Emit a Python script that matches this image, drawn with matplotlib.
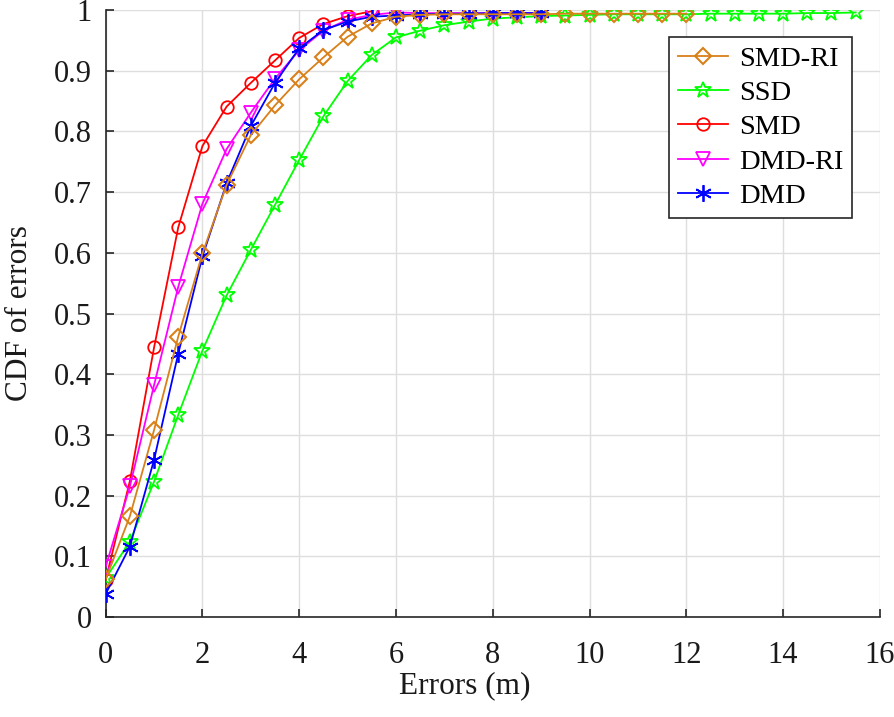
import numpy as np
import matplotlib
matplotlib.use("Agg")
import matplotlib.pyplot as plt

plt.rcParams['font.family'] = ['Liberation Serif', 'DejaVu Serif']
plt.rcParams['mathtext.fontset'] = 'stix'

# error thresholds (m) for each method
x_smd_ri = np.arange(0, 12.01, 0.5)
x_ssd = np.arange(0, 15.51, 0.5)
x_smd = np.arange(0, 5.51, 0.5)
x_dmd_ri = np.arange(0, 9.01, 0.5)
x_dmd = np.arange(0, 9.01, 0.5)

cdf_smd_ri = [0.062, 0.166, 0.308, 0.462, 0.599, 0.712, 0.794, 0.843, 0.886, 0.922,
              0.956, 0.978, 0.989, 0.992, 0.993, 0.993, 0.993, 0.993, 0.993, 0.994,
              0.994, 0.994, 0.994, 0.994, 0.994]
cdf_ssd = [0.064, 0.124, 0.223, 0.333, 0.439, 0.530, 0.605, 0.679, 0.753, 0.825,
           0.883, 0.926, 0.955, 0.966, 0.975, 0.981, 0.986, 0.988, 0.990, 0.991,
           0.992, 0.993, 0.993, 0.993, 0.993, 0.994, 0.994, 0.994, 0.994, 0.995,
           0.995, 0.996]
cdf_smd = [0.061, 0.224, 0.444, 0.642, 0.776, 0.841, 0.880, 0.917, 0.954, 0.977,
           0.990, 0.998]
cdf_dmd_ri = [0.083, 0.215, 0.382, 0.544, 0.681, 0.771, 0.831, 0.887, 0.934, 0.966,
              0.984, 0.992, 0.996, 0.995, 0.995, 0.995, 0.995, 0.995, 0.995]
cdf_dmd = [0.038, 0.116, 0.259, 0.434, 0.594, 0.715, 0.809, 0.880, 0.937, 0.967,
           0.981, 0.989, 0.991, 0.993, 0.994, 0.994, 0.995, 0.995, 0.995]

fig = plt.figure(figsize=(8.94, 7.17), dpi=100)
ax = fig.add_axes([0.1182, 0.1395, 0.866, 0.8465])

lw = 1.3
ax.plot(x_smd_ri, cdf_smd_ri, color='#D98019', lw=lw, marker='D', ms=8.5,
        mfc='none', mew=1.5, label='SMD-RI', zorder=6)
ax.plot(x_ssd, cdf_ssd, color='#00FF00', lw=lw, marker='*', ms=12,
        mfc='none', mew=1.3, label='SSD', zorder=3)
ax.plot(x_smd, cdf_smd, color='#FF0000', lw=lw, marker='o', ms=9,
        mfc='none', mew=1.3, label='SMD', zorder=4)
ax.plot(x_dmd_ri, cdf_dmd_ri, color='#FF00FF', lw=lw, marker='v', ms=10,
        mfc='none', mew=1.3, label='DMD-RI', zorder=4)
ax.plot(x_dmd, cdf_dmd, color='#0000FF', lw=lw, marker=(6, 2, 0), ms=12,
        mew=1.3, label='DMD', zorder=5)

ax.set_xlim(0, 16)
ax.set_ylim(0, 1)
ax.set_xticks(np.arange(0, 17, 2))
yt = np.round(np.arange(0, 1.01, 0.1), 1)
ax.set_yticks(yt)
ax.set_yticklabels(['0' if v == 0 else ('1' if v == 1 else f'{v:g}') for v in yt])

ax.grid(True, color='#dedede', lw=1.0)
ax.set_axisbelow(True)
for s in ['top', 'right']:
    ax.spines[s].set_visible(False)
for s in ['left', 'bottom']:
    ax.spines[s].set_linewidth(1.2)
    ax.spines[s].set_color('#262626')
ax.tick_params(direction='in', length=6, width=1.2, labelsize=22, colors='#262626',
               labelcolor='#1a1a1a')
ax.tick_params(axis='x', pad=17)
ax.tick_params(axis='y', pad=10)

ax.set_xlabel('Errors (m)', fontsize=22.5, labelpad=1, color='#1a1a1a', x=0.464)
ax.set_ylabel('CDF of errors', fontsize=22.5, labelpad=14, color='#1a1a1a')

leg = ax.legend(loc='upper right', bbox_to_anchor=(0.964, 0.9555), fontsize=20.5,
                fancybox=False, framealpha=1, edgecolor='#262626',
                handlelength=1.75, handletextpad=0.4, borderpad=0.3,
                labelspacing=0.3, borderaxespad=0)
leg.get_frame().set_linewidth(1.2)

fig.savefig('out.png', dpi=100)
